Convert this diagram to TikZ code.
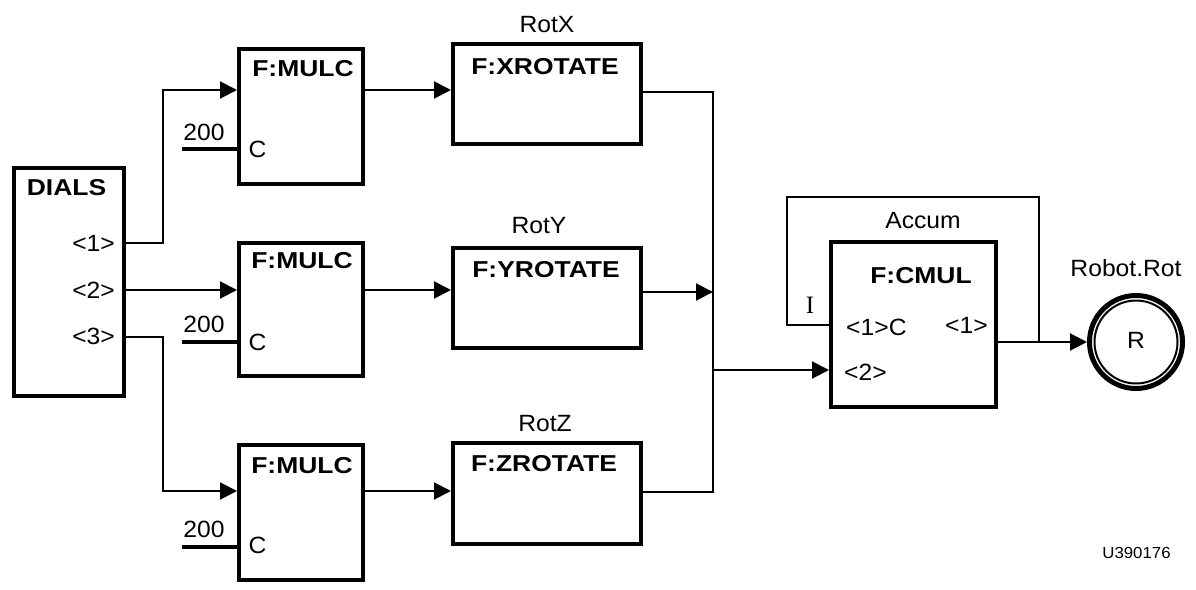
\documentclass[tikz,border=0pt]{standalone}
\usepackage{fontspec}
\setmainfont{Liberation Sans}[FakeStretch=1.05]
\newfontfamily\boldsans{Liberation Sans}[FakeStretch=1.15]
\newfontfamily\serifI{Liberation Serif}
\usetikzlibrary{arrows.meta}
\begin{document}
\begin{tikzpicture}[x=1pt,y=-1pt,
  blk/.style={draw, line width=4pt, inner sep=0pt},
  lbl/.style={font=\fontsize{23.5}{25}\selectfont, inner sep=0pt, anchor=base},
  blbl/.style={lbl, font=\fontsize{23}{25}\selectfont\boldsans\bfseries},
  wire/.style={line width=2pt},
  arr/.style={wire, -{Triangle[length=17pt,width=17pt]}},
  cst/.style={line width=4pt},
]
\useasboundingbox (0,0) rectangle (1196,589);

% blocks
\node[blk, minimum width=110pt, minimum height=228pt] (dials) at (69,282) {};
\node[blk, minimum width=124pt, minimum height=135pt] (mulc1) at (301,116.5) {};
\node[blk, minimum width=124pt, minimum height=133pt] (mulc2) at (301,309.5) {};
\node[blk, minimum width=124pt, minimum height=135pt] (mulc3) at (301,512.5) {};
\node[blk, minimum width=188pt, minimum height=100pt] (xrot) at (547,94) {};
\node[blk, minimum width=188pt, minimum height=100pt] (yrot) at (547,298) {};
\node[blk, minimum width=188pt, minimum height=101pt] (zrot) at (547,493.5) {};
\node[blk, minimum width=165pt, minimum height=165pt] (cmul) at (913.5,324.5) {};
\node[draw, circle, line width=5pt, minimum size=93pt, inner sep=0pt] (robot) at (1136,342) {};
\node[draw, circle, line width=2pt, minimum size=83pt, inner sep=0pt] (robotin) at (1136,342) {};

% texts
\node[blbl] (tdials) at (66.5,195) {DIALS};
\node[lbl, anchor=base east] (d1) at (115,251) {<1>};
\node[lbl, anchor=base east] (d2) at (115,298) {<2>};
\node[lbl, anchor=base east] (d3) at (115,344) {<3>};
\node[blbl] (tm1) at (303,76) {F:MULC};
\node[blbl] (tm2) at (302,268) {F:MULC};
\node[blbl] (tm3) at (302,473) {F:MULC};
\node[lbl] (ka) at (204,140) {200};
\node[lbl] (kb) at (204,332) {200};
\node[lbl] (kc) at (204,537) {200};
\node[lbl] (ca) at (257.5,157) {C};
\node[lbl] (cb) at (257.5,350) {C};
\node[lbl] (cc) at (257.5,553) {C};
\node[lbl] (rotx) at (547,32) {RotX};
\node[blbl] (txr) at (545,74) {F:XROTATE};
\node[lbl] (roty) at (539,233) {RotY};
\node[blbl] (tyr) at (546,277) {F:YROTATE};
\node[lbl] (rotz) at (545,431) {RotZ};
\node[blbl] (tzr) at (544,471) {F:ZROTATE};
\node[lbl] (accum) at (923,228) {Accum};
\node[blbl] (tcm) at (921,283) {F:CMUL};
\node[lbl, font=\fontsize{25}{27}\selectfont\serifI] (ii) at (810,313) {I};
\node[lbl, anchor=base west] (c1c) at (846,335) {<1>C};
\node[lbl, anchor=base west] (c1o) at (945,333) {<1>};
\node[lbl, anchor=base west] (c2i) at (844,380) {<2>};
\node[lbl] (rr) at (1136,348) {R};
\node[lbl] (rname) at (1126,276) {Robot.Rot};
\node[lbl, font=\fontsize{16}{18}\selectfont] (code) at (1136.5,558) {U390176};

% helper coordinates
\coordinate (d1y) at (0,243);
\coordinate (d3y) at (0,337);
\coordinate (k1) at (163,0);
\coordinate (row1) at (0,90);
\coordinate (row2) at (0,290);
\coordinate (row3) at (0,491);
\coordinate (bx) at (713,0);
\coordinate (o1) at (0,92);
\coordinate (o2) at (0,292);
\coordinate (o3) at (0,492);
\coordinate (o4) at (0,370);
\coordinate (fbL) at (787,197);
\coordinate (fbR) at (1039,197);
\coordinate (c1) at (182,149);
\coordinate (c2) at (182,342);
\coordinate (c3) at (182,547);

% connectors
\draw[arr] (dials.east |- d1y) -| (k1 |- row1) -- (mulc1.west |- row1);
\draw[arr] (dials.east |- row2) -- (mulc2.west |- row2);
\draw[arr] (dials.east |- d3y) -| (k1 |- row3) -- (mulc3.west |- row3);

\draw[arr] (mulc1.east |- row1) -- (xrot.west |- row1);
\draw[arr] (mulc2.east |- row2) -- (yrot.west |- row2);
\draw[arr] (mulc3.east |- row3) -- (zrot.west |- row3);

\draw[wire] (xrot.east |- o1) -| (bx |- o3) -- (zrot.east |- o3);
\draw[arr] (yrot.east |- o2) -- (bx |- o2);
\draw[arr] (bx |- o4) -- (cmul.west |- o4);

\draw[wire] (cmul.west) -| (fbL) -| (fbR |- robot.center);
\draw[arr] (cmul.east |- robot.center) -- (robot.west);

\draw[cst] (c1) -- (mulc1.west |- c1);
\draw[cst] (c2) -- (mulc2.west |- c2);
\draw[cst] (c3) -- (mulc3.west |- c3);
\end{tikzpicture}
\end{document}
